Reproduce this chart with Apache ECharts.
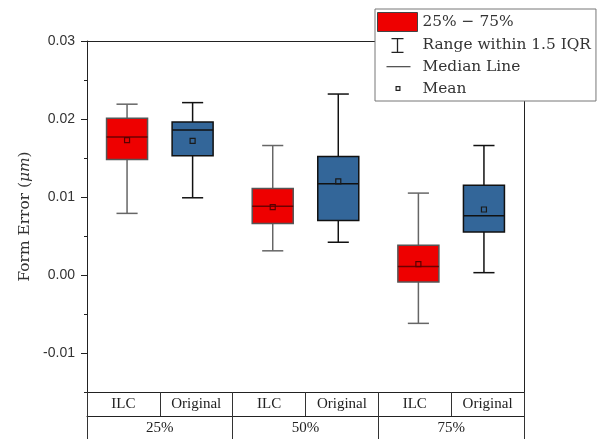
<!DOCTYPE html>
<html><head><meta charset="utf-8">
<script src="https://cdn.jsdelivr.net/npm/echarts@6/dist/echarts.min.js"></script>
<style>html,body{margin:0;padding:0;background:#fff}#c{width:603px;height:439px}</style>
</head><body><div id="c"></div>
<script>
// ---- data ----
const SUB_LABELS = ['ILC', 'Original', 'ILC', 'Original', 'ILC', 'Original'];
const GROUP_LABELS = ['25%', '50%', '75%'];
const WHISKER_LOW  = [0.0079, 0.0099, 0.0031, 0.0042, -0.0062, 0.0003];
const Q1           = [0.0148, 0.0153, 0.0066, 0.0070, -0.0009, 0.0055];
const MEDIAN       = [0.0177, 0.0186, 0.0088, 0.0117, 0.0011, 0.0076];
const Q3           = [0.0201, 0.0196, 0.0111, 0.0152, 0.0038, 0.0115];
const WHISKER_HIGH = [0.0219, 0.0221, 0.0166, 0.0232, 0.0105, 0.0166];
const MEAN         = [0.0173, 0.0172, 0.0087, 0.0120, 0.0014, 0.0084];
const MAJOR_TICKS  = [-0.01, 0, 0.01, 0.02, 0.03];

// ---- layout / style ----
const X_SHIFT = 0.05, BOX_FRAC = 0.563, CAP_FRAC = 0.29, MEAN_SIZE = 5;
const STYLE = [
  {fill: '#EE0000', edge: '#555555', median: '#6e0000', whisker: '#666666', mean: '#5a0000'},
  {fill: '#336699', edge: '#111111', median: '#111111', whisker: '#111111', mean: '#1a1a1a'}
];
const rows = SUB_LABELS.map((_, i) => [i, WHISKER_LOW[i], Q1[i], MEDIAN[i], Q3[i], WHISKER_HIGH[i], MEAN[i]]);

function geom(api) {
  const i = api.value(0);
  const bw = api.size([1, 0])[0];
  const cx = api.coord([i, 0])[0] + (i % 2 === 0 ? 1 : -1) * X_SHIFT * bw;
  const y = k => api.coord([i, api.value(k)])[1];
  return {i, bw, cx, y, s: STYLE[i % 2]};
}
function whiskerItem(params, api) {
  const g = geom(api), c = CAP_FRAC * g.bw / 2;
  const st = {stroke: g.s.whisker, lineWidth: 1.5};
  const ln = (x1, y1, x2, y2) => ({type: 'line', shape: {x1, y1, x2, y2}, style: st});
  return {type: 'group', children: [
    ln(g.cx, g.y(5), g.cx, g.y(4)),
    ln(g.cx, g.y(2), g.cx, g.y(1)),
    ln(g.cx - c, g.y(5), g.cx + c, g.y(5)),
    ln(g.cx - c, g.y(1), g.cx + c, g.y(1))
  ]};
}
function boxItem(params, api) {
  const g = geom(api), w = BOX_FRAC * g.bw;
  const top = g.y(4), bot = g.y(2);
  return {type: 'rect', shape: {x: g.cx - w / 2, y: top, width: w, height: bot - top},
    style: {fill: g.s.fill, stroke: g.s.edge, lineWidth: 1.5}};
}
function medianItem(params, api) {
  const g = geom(api), w = BOX_FRAC * g.bw, ym = g.y(3);
  return {type: 'line', shape: {x1: g.cx - w / 2, y1: ym, x2: g.cx + w / 2, y2: ym},
    style: {stroke: g.s.median, lineWidth: 1.5}};
}
function meanItem(params, api) {
  const g = geom(api), ym = g.y(6), h = MEAN_SIZE / 2;
  return {type: 'rect', shape: {x: g.cx - h, y: ym - h, width: MEAN_SIZE, height: MEAN_SIZE},
    style: {fill: 'none', stroke: g.s.mean, lineWidth: 1.2}};
}

const SERIF = 'DejaVu Serif';
const TABLE_FONT = {fontFamily: 'Liberation Serif', fontSize: 15, color: '#222'};
const FRAME = {show: true, onZero: false, lineStyle: {color: '#222', width: 1}};
const TABLE_TICK = {show: true, length: 24, inside: false, alignWithLabel: false, lineStyle: {color: '#333'}};

const IBEAM = 'path://M0,0M40,19M14,3h12v1.3h-5.35v12.4h5.35v1.3h-12v-1.3h5.35v-12.4h-5.35z';
const LINE_ICON = 'path://M0,0M40,19M9,9h24v1.3h-24z';
const MEAN_ICON = 'path://M0,0M40,19M18,7h5v5h-5zM19.2,8.2v2.6h2.6v-2.6z';

const customBase = {type: 'custom', xAxisIndex: 0, yAxisIndex: 0, data: rows,
  encode: {x: 0, y: [1, 2, 3, 4, 5, 6]}, silent: true};

const option = {
  animation: false,
  backgroundColor: '#fff',
  grid: {left: 87, right: 79, top: 41, bottom: 47, containLabel: false},
  legend: {
    orient: 'vertical', left: 375, top: 9, z: 10,
    padding: [3, 5, 3, 2], itemGap: 3, itemWidth: 40, itemHeight: 19,
    backgroundColor: '#fff', borderColor: '#777', borderWidth: 1,
    selectedMode: false,
    textStyle: {fontFamily: SERIF, fontSize: 15.4, color: '#333'},
    data: [
      {name: '25% − 75%', icon: 'rect', itemStyle: {color: '#EE0000', borderColor: '#444', borderWidth: 1}},
      {name: 'Range within 1.5 IQR', icon: IBEAM, itemStyle: {color: '#222', borderWidth: 0}},
      {name: 'Median Line', icon: LINE_ICON, itemStyle: {color: '#555', borderWidth: 0}},
      {name: 'Mean', icon: MEAN_ICON, itemStyle: {color: '#222', borderWidth: 0}}
    ]
  },
  xAxis: [
    {type: 'category', data: SUB_LABELS, position: 'bottom', boundaryGap: true,
      axisLine: FRAME, axisTick: TABLE_TICK,
      axisLabel: Object.assign({margin: 5}, TABLE_FONT), splitLine: {show: false}},
    {type: 'category', data: GROUP_LABELS, position: 'bottom', offset: 24, boundaryGap: true,
      axisLine: FRAME, axisTick: TABLE_TICK,
      axisLabel: Object.assign({margin: 5}, TABLE_FONT), splitLine: {show: false}},
    {type: 'value', position: 'top', min: 0, max: 1,
      axisLine: FRAME, axisTick: {show: false}, axisLabel: {show: false}, splitLine: {show: false}}
  ],
  yAxis: [
    {type: 'value', position: 'left', min: -0.015, max: 0.03, interval: 0.005,
      name: 'Form Error ({it|μm})', nameLocation: 'middle', nameGap: 52,
      nameTextStyle: {fontFamily: SERIF, fontSize: 15.4, color: '#333',
        rich: {it: {fontFamily: SERIF, fontSize: 15.4, fontStyle: 'italic', color: '#333'}}},
      axisLine: FRAME,
      axisTick: {show: true, length: 6, customValues: MAJOR_TICKS, lineStyle: {color: '#222'}},
      axisLabel: {customValues: MAJOR_TICKS, margin: 12, fontFamily: 'Liberation Sans', fontSize: 14, color: '#333',
        formatter: v => Number(v).toFixed(2)},
      splitLine: {show: false}},
    {type: 'value', position: 'left', min: -0.015, max: 0.03, interval: 0.005,
      axisLine: {show: false, onZero: false}, axisTick: {show: true, length: 3, lineStyle: {color: '#222'}},
      axisLabel: {show: false}, splitLine: {show: false}},
    {type: 'value', position: 'right', min: 0, max: 1,
      axisLine: FRAME, axisTick: {show: false}, axisLabel: {show: false}, splitLine: {show: false}}
  ],
  series: [
    Object.assign({}, customBase, {name: 'Range within 1.5 IQR', renderItem: whiskerItem, itemStyle: {color: '#222'}}),
    Object.assign({}, customBase, {name: '25% − 75%', renderItem: boxItem, itemStyle: {color: '#EE0000'}}),
    Object.assign({}, customBase, {name: 'Median Line', renderItem: medianItem, itemStyle: {color: '#555'}}),
    Object.assign({}, customBase, {name: 'Mean', renderItem: meanItem, itemStyle: {color: '#222'}})
  ]
};
const chart = echarts.init(document.getElementById('c'), null, {renderer: 'canvas'});
chart.setOption(option);
</script></body></html>
